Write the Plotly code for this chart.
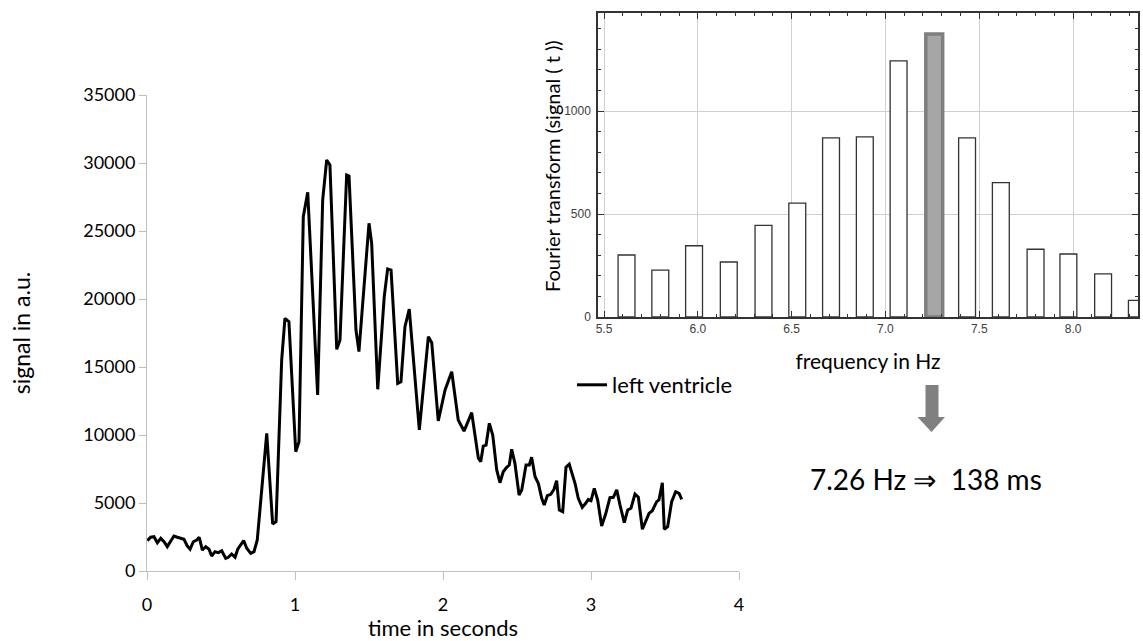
import plotly.graph_objects as go

# ---- left panel: time signal (left ventricle) ----
time_s = [0.002, 0.025, 0.047, 0.070, 0.093, 0.115, 0.137, 0.160, 0.182, 0.205,
          0.228, 0.250, 0.272, 0.291, 0.313, 0.336, 0.353, 0.374, 0.397, 0.419,
          0.437, 0.459, 0.482, 0.505, 0.532, 0.549, 0.572, 0.595, 0.613, 0.633,
          0.653, 0.674, 0.701, 0.723, 0.745, 0.809, 0.849, 0.872, 0.910, 0.932,
          0.959, 1.005, 1.027, 1.056, 1.086, 1.153, 1.187, 1.214, 1.236, 1.282,
          1.304, 1.349, 1.365, 1.412, 1.432, 1.500, 1.518, 1.559, 1.603, 1.626,
          1.649, 1.694, 1.716, 1.743, 1.772, 1.840, 1.901, 1.924, 1.968, 2.014,
          2.059, 2.103, 2.142, 2.194, 2.239, 2.255, 2.272, 2.291, 2.313, 2.336,
          2.363, 2.385, 2.407, 2.430, 2.448, 2.464, 2.486, 2.514, 2.532, 2.561,
          2.583, 2.599, 2.622, 2.644, 2.667, 2.684, 2.705, 2.728, 2.750, 2.768,
          2.786, 2.809, 2.831, 2.853, 2.892, 2.914, 2.941, 2.964, 2.982, 3.000,
          3.022, 3.045, 3.072, 3.099, 3.128, 3.151, 3.174, 3.196, 3.225, 3.248,
          3.270, 3.297, 3.320, 3.347, 3.370, 3.392, 3.414, 3.444, 3.459, 3.482,
          3.495, 3.518, 3.545, 3.572, 3.595, 3.613]
signal_au = [2230, 2480, 2520, 2080, 2400, 2150, 1790, 2230, 2570, 2480,
             2400, 2330, 1840, 1600, 2150, 2280, 2480, 1540, 1790, 1600,
             1100, 1420, 1350, 1490, 930, 1010, 1250, 1010, 1600, 1910,
             2230, 1670, 1300, 1420, 2280, 10120, 3460, 3630, 15510, 18580,
             18330, 8770, 9510, 26050, 27850, 12940, 27280, 30220, 29850, 16300,
             16990, 29120, 29040, 17720, 16130, 25570, 24100, 13360, 20170, 22210,
             22130, 13800, 13920, 17960, 19260, 10370, 17230, 16790, 11030, 13310,
             14650, 11100, 10290, 11640, 8290, 8040, 9190, 9260, 10860, 10000,
             7430, 6490, 7300, 7630, 7790, 8950, 7920, 5590, 5960, 7790,
             7790, 8360, 6930, 6450, 5350, 4850, 5540, 5640, 6010, 6640,
             4490, 4360, 7630, 7850, 6450, 5350, 4680, 4980, 5270, 5170,
             6080, 5220, 3310, 4190, 5390, 5420, 5960, 4850, 3550, 4490,
             4610, 5660, 5420, 3070, 3630, 4240, 4430, 5100, 5220, 6490,
             3070, 3260, 5100, 5830, 5710, 5270]
series_name = "left ventricle"

# ---- right panel: Fourier transform ----
freq_hz = [5.62, 5.80, 5.98, 6.165, 6.35, 6.53, 6.71, 6.89, 7.07, 7.26,
           7.435, 7.615, 7.80, 7.975, 8.16, 8.34]
ft_amp = [301, 228, 346, 267, 445, 553, 870, 875, 1244, 1374,
          870, 652, 329, 306, 209, 81]
peak_index = 9
result_text = "7.26 Hz \u21d2  138 ms"
ft_ylabel = "Fourier transform (signal ( t ))"

W, H = 1143, 641
def px(x):
    return x / W
def py(y):
    return 1 - y / H

fill_colors = ["#a6a6a6" if i == peak_index else "white" for i in range(len(freq_hz))]
edge_colors = ["#7f7f7f" if i == peak_index else "#333333" for i in range(len(freq_hz))]
edge_widths = [3.5 if i == peak_index else 1.3 for i in range(len(freq_hz))]

fig = go.Figure()
fig.add_trace(go.Scatter(
    x=time_s, y=signal_au, mode="lines", name=series_name,
    line=dict(color="black", width=3), xaxis="x", yaxis="y",
))
fig.add_trace(go.Bar(
    x=freq_hz, y=ft_amp, width=0.09, showlegend=False,
    marker=dict(color=fill_colors, line=dict(color=edge_colors, width=edge_widths)),
    xaxis="x2", yaxis="y2",
))

FAM = "Lato, Carlito, Calibri, sans-serif"
small_font = dict(family="Liberation Sans, Arial, sans-serif", size=12, color="#404040")

fig.update_layout(
    width=W, height=H,
    margin=dict(l=0, r=0, t=0, b=0, autoexpand=False),
    paper_bgcolor="white", plot_bgcolor="white",
    font=dict(family=FAM, size=18, color="black"),
    showlegend=True,
    legend=dict(x=px(572), y=py(385), xanchor="left", yanchor="middle",
                bgcolor="rgba(0,0,0,0)", font=dict(family=FAM, size=22, color="black"),
                itemwidth=30, tracegroupgap=0),
    xaxis=dict(domain=[px(147), px(739)], range=[0, 4], dtick=1, tick0=0, automargin=False,
               showgrid=False, zeroline=False, showline=True, linecolor="#bfbfbf", linewidth=1,
               ticks="outside", ticklen=8, tickcolor="#bfbfbf", ticklabelstandoff=9,
               tickfont=dict(family=FAM, size=18, color="black"),
               title=dict(text="time in seconds", font=dict(family=FAM, size=22), standoff=10),
               anchor="y"),
    yaxis=dict(domain=[py(571), py(95)], range=[0, 35000], dtick=5000, tick0=0, automargin=False,
               tickformat="d",
               showgrid=False, zeroline=False, showline=True, linecolor="#bfbfbf", linewidth=1,
               ticks="outside", ticklen=7, tickcolor="#bfbfbf",
               tickfont=dict(family=FAM, size=18, color="black"),
               title=dict(text="signal in a.u.", font=dict(family=FAM, size=23), standoff=46),
               anchor="x"),
    xaxis2=dict(domain=[px(598), px(1138)], range=[5.468, 8.346], dtick=0.5, tick0=5.5, automargin=False,
                tickformat=".1f", showgrid=True, gridcolor="#d0d0d0", gridwidth=1,
                zeroline=False, showline=True, linecolor="#333333", linewidth=1.5, mirror="allticks",
                ticks="inside", ticklen=6, tickcolor="#333333",
                minor=dict(dtick=0.1, tick0=5.5, ticks="inside", ticklen=3, tickcolor="#333333", showgrid=False),
                tickfont=small_font,
                title=dict(text="frequency in Hz", font=dict(family=FAM, size=21), standoff=19),
                anchor="y2"),
    yaxis2=dict(domain=[py(317), py(13)], range=[0, 1476], dtick=500, tick0=0, automargin=False,
                tickformat="d",
                showgrid=True, gridcolor="#d0d0d0", gridwidth=1,
                zeroline=False, showline=True, linecolor="#333333", linewidth=1.5, mirror="allticks",
                ticks="inside", ticklen=6, tickcolor="#333333",
                minor=dict(dtick=100, tick0=0, ticks="inside", ticklen=3, tickcolor="#333333", showgrid=False),
                tickfont=small_font, ticklabelstandoff=3,
                anchor="x2"),
)

# y title of the spectrum
fig.add_annotation(text=ft_ylabel, x=px(552), y=py(166), xref="paper", yref="paper",
                   showarrow=False, textangle=-90, xanchor="center", yanchor="middle",
                   font=dict(family=FAM, size=20, color="black"))

# gray down arrow below the spectrum
arrow_path = (f"M {px(925.5)} {py(385)} L {px(938.5)} {py(385)} L {px(938.5)} {py(417)} "
              f"L {px(945)} {py(417)} L {px(931.5)} {py(432)} L {px(917.5)} {py(417)} "
              f"L {px(925.5)} {py(417)} Z")
fig.add_shape(type="path", path=arrow_path, xref="paper", yref="paper",
              fillcolor="#808080", line=dict(width=0))

fig.add_annotation(text=result_text, x=px(926), y=py(479), xref="paper", yref="paper",
                   showarrow=False, xanchor="center", yanchor="middle",
                   font=dict(family=FAM, size=28, color="black"))

fig.write_html("out.html", config={"displayModeBar": False},
               post_script="document.body.style.margin='0';document.body.style.overflow='hidden';")
